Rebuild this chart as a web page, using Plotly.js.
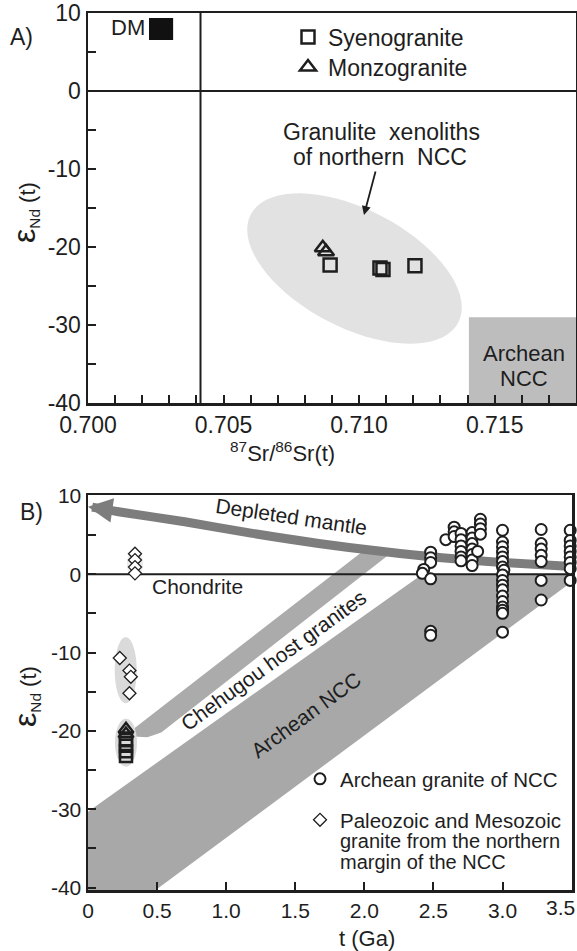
<!DOCTYPE html>
<html><head><meta charset="utf-8">
<script src="https://cdn.plot.ly/plotly-3.0.1.min.js"></script>
<style>html,body{margin:0;padding:0;background:#fff}#chart{width:577px;height:951px}</style>
</head><body><div id="chart"></div>
<script>
// ================= DATA =================
// Panel A: 87Sr/86Sr(t) vs eps Nd(t)
const syenoSr = [0.70893, 0.71077, 0.71088, 0.71206];
const syenoNd = [-22.3, -22.7, -22.9, -22.4];
const monzoSr = [0.70866, 0.70878];
const monzoNd = [-20.1, -20.6];

// Panel B: t (Ga) vs eps Nd(t)
const syenoT = [0.275, 0.275, 0.275, 0.275];
const syenoNdB = [-21.2, -21.9, -22.6, -23.2];
const monzoT = [0.275, 0.275];
const monzoNdB = [-19.8, -20.4];
const paleoT = [0.34, 0.34, 0.34, 0.34, 0.23, 0.30, 0.31, 0.30];
const paleoNd = [2.6, 1.8, 0.9, 0.1, -10.7, -12.3, -13.1, -15.2];
const archT = [2.48, 2.48, 2.48, 2.43, 2.42, 2.48, 2.48, 2.48,
  2.59, 2.65, 2.65, 2.65,
  2.70, 2.70, 2.70, 2.70, 2.70, 2.70,
  2.78, 2.78, 2.78, 2.78, 2.78, 2.78, 2.78,
  2.84, 2.84, 2.84, 2.84, 2.82,
  3.0, 3.0, 3.0, 3.0, 3.0, 3.0, 3.0, 3.01, 3.0, 3.0, 3.0, 3.0, 3.0, 3.0, 3.0, 3.0, 3.0, 3.0,
  3.28, 3.28, 3.28, 3.28, 3.28, 3.28, 3.28,
  3.49, 3.49, 3.49, 3.49, 3.49, 3.49, 3.49, 3.49];
const archNd = [2.8, 2.1, 1.5, 0.6, 0.1, -0.6, -7.3, -7.8,
  4.4, 6.0, 5.4, 4.8,
  5.2, 4.4, 3.6, 2.9, 2.2, 1.7,
  5.3, 4.6, 3.9, 3.2, 2.5, 1.8, 1.1,
  7.0, 6.4, 5.8, 5.1, 2.9,
  5.6, 4.1, 3.5, 2.8, 2.2, 1.6, 0.9, 0.5, -0.1, -0.8, -1.4, -2.0, -2.8, -3.5, -4.2, -4.6, -5.0, -7.4,
  5.7, 3.9, 3.2, 2.4, 1.6, -0.8, -3.3,
  5.6, 4.3, 3.6, 2.9, 2.2, 1.5, 0.7, -0.8];
// depleted mantle evolution curve
const dmT = [0.03, 0.22, 0.70, 1.19, 1.67, 2.15, 2.56, 3.0, 3.52];
const dmNd = [8.55, 7.96, 6.68, 5.2, 3.92, 2.85, 2.1, 1.5, 0.95];
// field outlines panel B
const archBandT = [0, 0, 2.42, 3.5, 3.5, 0.49];
const archBandNd = [-40.3, -30.3, 0, 0, -1.0, -40.3];
const chehBandT = [0.33, 0.34, 1.98, 2.20, 0.53, 0.43];
const chehBandNd = [-20.7, -19.6, 2.8, 2.8, -20.2, -20.8];

const yTickVals = [-40, -30, -20, -10, 0, 10];
const yTickText = ['-40', '-30', '-20', '-10', '0', '10'];
const xTickValsA = [0.700, 0.705, 0.710, 0.715];
const xTickTextA = ['0.700', '0.705', '0.710', '0.715'];
const xTickValsB = [0, 0.5, 1.0, 1.5, 2.0, 2.5, 3.0, 3.5];
const xTickTextB = ['0', '0.5', '1.0', '1.5', '2.0', '2.5', '3.0', ''];
const lastTickB = '3.5';   // drawn shifted left so it stays inside the figure

// ================= LAYOUT GEOMETRY =================
const W = 577, H = 951;
const A = {x0: 88, x1: 576, y0: 13, y1: 403, xr: [0.700, 0.718], yr: [-40, 10]};
const B = {x0: 88, x1: 572, y0: 495, y1: 890, xr: [0, 3.503], yr: [-40.3, 10.1]};
const FONT = 'Liberation Sans, Arial, sans-serif';
const INK = '#1e1e1e';
const FA = 23, FB = 21;

function dom(p) {
  return {x: [p.x0 / W, p.x1 / W], y: [1 - p.y1 / H, 1 - p.y0 / H]};
}
function ellipsePath(p, cx, cy, a, b, angDeg) {
  const kx = (p.x1 - p.x0) / (p.xr[1] - p.xr[0]);
  const ky = (p.y1 - p.y0) / (p.yr[1] - p.yr[0]);
  const th = angDeg * Math.PI / 180;
  let d = '';
  for (let i = 0; i <= 72; i++) {
    const t = 2 * Math.PI * i / 72;
    const dx = a * Math.cos(t) * Math.cos(th) - b * Math.sin(t) * Math.sin(th);
    const dy = a * Math.cos(t) * Math.sin(th) + b * Math.sin(t) * Math.cos(th);
    d += (i ? 'L' : 'M') + (cx + dx / kx) + ',' + (cy - dy / ky);
  }
  return d + 'Z';
}
function polyPath(xs, ys) {
  return xs.map((x, i) => (i ? 'L' : 'M') + x + ',' + ys[i]).join('') + 'Z';
}

const dA = dom(A), dB = dom(B);

function axBase(fs) {
  return {
    showline: true, linewidth: 2.5, linecolor: INK, mirror: true,
    showgrid: false, zeroline: false,
    ticks: 'inside', ticklen: 8, tickwidth: 2, tickcolor: INK,
    tickfont: {family: FONT, size: fs, color: INK},
    tickmode: 'array', fixedrange: true
  };
}
const minorY = {tickmode: 'linear', tick0: 0, dtick: 5, ticks: 'inside', ticklen: 8, tickwidth: 2, tickcolor: INK};

const traces = [
  // Panel A
  {x: syenoSr, y: syenoNd, xaxis: 'x', yaxis: 'y', mode: 'markers', name: 'Syenogranite',
   marker: {symbol: 'square-open', size: 13, color: INK, line: {width: 2.5}}, legend: 'legend', cliponaxis: false},
  {x: monzoSr, y: monzoNd, xaxis: 'x', yaxis: 'y', mode: 'markers', name: 'Monzogranite',
   marker: {symbol: 'triangle-up-open', size: 14, color: INK, line: {width: 2.5}}, legend: 'legend2', cliponaxis: false},
  // Panel B
  {x: dmT, y: dmNd, xaxis: 'x2', yaxis: 'y2', mode: 'lines', showlegend: false,
   line: {color: '#7d7d7d', width: 9, shape: 'spline', smoothing: 0.8}, hoverinfo: 'skip'},
  {x: paleoT, y: paleoNd, xaxis: 'x2', yaxis: 'y2', mode: 'markers',
   name: 'Paleozoic and Mesozoic', legend: 'legend4',
   marker: {symbol: 'diamond', size: 10, color: '#fff', line: {width: 1.3, color: INK}}},
  {x: syenoT, y: syenoNdB, xaxis: 'x2', yaxis: 'y2', mode: 'markers', showlegend: false,
   marker: {symbol: 'square-open', size: 12, color: INK, line: {width: 2.5}}},
  {x: monzoT, y: monzoNdB, xaxis: 'x2', yaxis: 'y2', mode: 'markers', showlegend: false,
   marker: {symbol: 'triangle-up-open', size: 13, color: INK, line: {width: 2.5}}},
  {x: archT, y: archNd, xaxis: 'x2', yaxis: 'y2', mode: 'markers', name: 'Archean granite of NCC',
   legend: 'legend3', cliponaxis: false,
   marker: {symbol: 'circle', size: 11, color: '#fff', line: {width: 2, color: INK}}}
];

const shapes = [
  // Panel A
  {type: 'path', xref: 'x', yref: 'y', path: ellipsePath(A, 0.70983, -22.76, 117, 59, 27.5),
   fillcolor: '#e2e2e2', line: {width: 0}, layer: 'below'},
  {type: 'rect', xref: 'x', yref: 'y', x0: 0.71405, x1: 0.718, y0: -40, y1: -29,
   fillcolor: '#bdbdbd', line: {width: 0}, layer: 'below'},
  {type: 'rect', xref: 'x', yref: 'y', x0: 0.70225, x1: 0.70314, y0: 6.54, y1: 9.36,
   fillcolor: '#111', line: {width: 0}, layer: 'below'},
  {type: 'line', xref: 'x', yref: 'y', x0: 0.70415, x1: 0.70415, y0: -40, y1: 10,
   line: {color: INK, width: 2}, layer: 'below'},
  {type: 'line', xref: 'x', yref: 'y', x0: 0.700, x1: 0.718, y0: 0, y1: 0,
   line: {color: INK, width: 2}, layer: 'below'},
  // Panel B
  {type: 'path', xref: 'x2', yref: 'y2', path: polyPath(archBandT, archBandNd),
   fillcolor: '#a8a8a8', line: {width: 0}, layer: 'below'},
  {type: 'path', xref: 'x2', yref: 'y2', path: polyPath(chehBandT, chehBandNd),
   fillcolor: '#ababab', line: {width: 0}, layer: 'below'},
  {type: 'path', xref: 'x2', yref: 'y2', path: ellipsePath(B, 0.273, -12.26, 11, 33, 0),
   fillcolor: '#dadada', line: {width: 0}, layer: 'below'},
  {type: 'path', xref: 'x2', yref: 'y2', path: ellipsePath(B, 0.275, -21.5, 11, 24, 0),
   fillcolor: '#dadada', line: {width: 0}, layer: 'below'},
  {type: 'path', xref: 'x2', yref: 'y2', path: ellipsePath(B, 0.34, 1.3, 8, 14, 0),
   fillcolor: '#ececec', line: {width: 0}, layer: 'below'},
  {type: 'line', xref: 'x2', yref: 'y2', x0: 0, x1: 3.503, y0: 0, y1: 0,
   line: {color: INK, width: 2}, layer: 'below'}
];

function txt(text, x, y, xref, yref, fs, opts) {
  return Object.assign({text: text, x: x, y: y, xref: xref, yref: yref, showarrow: false,
    xanchor: 'center', yanchor: 'middle', font: {family: FONT, size: fs, color: INK}}, opts || {});
}
const yTitle = '<span style="font-size:32px">ε</span><sub>Nd</sub> (t)';

const annotations = [
  txt('A)', 21 / W, 1 - 37 / H, 'paper', 'paper', 23),
  txt('DM', 0.70148, 8.08, 'x', 'y', 22),
  txt('Granulite  xenoliths', 0.71081, -5.26, 'x', 'y', FA),
  txt('of northern  NCC', 0.71078, -8.46, 'x', 'y', FA),
  {x: 0.71018, y: -15.9, ax: 0.71062, ay: -10.13, xref: 'x', yref: 'y', axref: 'x', ayref: 'y',
   text: '', showarrow: true, arrowhead: 2, arrowsize: 1, arrowwidth: 1.8, arrowcolor: INK},
  txt('Archean', 0.71608, -33.7, 'x', 'y', 22),
  txt('NCC', 0.71608, -36.9, 'x', 'y', 22),
  txt('<sup>87</sup>Sr/<sup>86</sup>Sr(t)', 282 / W, 1 - 452 / H, 'paper', 'paper', 22),
  txt(yTitle, 25 / W, 1 - 213 / H, 'paper', 'paper', 22, {textangle: -90}),

  txt('B)', 31 / W, 1 - 512 / H, 'paper', 'paper', 23),
  txt('Depleted mantle', 1.47, 7.4, 'x2', 'y2', FB, {textangle: 8.5}),
  txt('Chondrite', 0.79, -1.55, 'x2', 'y2', FB),
  txt('Chehugou host granites', 1.34, -11.0, 'x2', 'y2', FB, {textangle: -36}),
  txt('Archean NCC', 1.58, -17.9, 'x2', 'y2', FB, {textangle: -36}),
  {x: 0.0, y: 8.6, ax: 0.25, ay: 7.95, xref: 'x2', yref: 'y2', axref: 'x2', ayref: 'y2',
   text: '', showarrow: true, arrowhead: 2, arrowsize: 0.7, arrowwidth: 7, arrowcolor: '#7d7d7d'},
  txt('granite from the northern', 338 / W, 1 - 841 / H, 'paper', 'paper', 20, {xanchor: 'left'}),
  txt('margin of the NCC', 338 / W, 1 - 862 / H, 'paper', 'paper', 20, {xanchor: 'left'}),
  txt(lastTickB, 560 / W, 1 - 907 / H, 'paper', 'paper', FB),
  txt('t (Ga)', 367 / W, 1 - 938 / H, 'paper', 'paper', 22),
  txt(yTitle, 25 / W, 1 - 697 / H, 'paper', 'paper', 22, {textangle: -90})
];

function leg(px, py, fs) {
  return {x: px / W, y: 1 - py / H, xanchor: 'left', yanchor: 'middle', bgcolor: 'rgba(0,0,0,0)',
    borderwidth: 0, font: {family: FONT, size: fs, color: INK}, itemclick: false, itemdoubleclick: false};
}

const layout = {
  width: W, height: H, margin: {l: 0, r: 0, t: 0, b: 0},
  paper_bgcolor: '#fff', plot_bgcolor: 'rgba(0,0,0,0)',
  font: {family: FONT, size: 20, color: INK},
  showlegend: true,
  legend: leg(288, 37, FA), legend2: leg(288, 67, FA),
  legend3: leg(300, 779, 20.5), legend4: leg(300, 820, 20.5),
  xaxis: Object.assign(axBase(FA), {domain: dA.x, range: A.xr, anchor: 'y',
    tickvals: xTickValsA, ticktext: xTickTextA,
    minor: {tickmode: 'linear', tick0: 0.700, dtick: 0.001, ticks: 'inside', ticklen: 8, tickwidth: 2, tickcolor: INK}}),
  yaxis: Object.assign(axBase(FA), {domain: dA.y, range: A.yr, anchor: 'x',
    tickvals: yTickVals, ticktext: yTickText, minor: minorY}),
  xaxis2: Object.assign(axBase(FB), {domain: dB.x, range: B.xr, anchor: 'y2',
    tickvals: xTickValsB, ticktext: xTickTextB}),
  yaxis2: Object.assign(axBase(FB), {domain: dB.y, range: B.yr, anchor: 'x2',
    tickvals: yTickVals, ticktext: yTickText, minor: minorY}),
  shapes: shapes,
  annotations: annotations
};

Plotly.newPlot('chart', traces, layout, {displayModeBar: false, staticPlot: true});
</script>
</body></html>
